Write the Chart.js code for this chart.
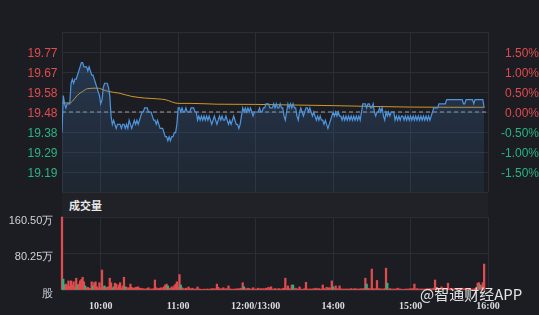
<!DOCTYPE html>
<html><head><meta charset="utf-8">
<script src="https://cdn.jsdelivr.net/npm/chart.js@4.4.0/dist/chart.umd.min.js"></script>
<style>
html,body{margin:0;padding:0;background:#1b1d22;}
#wrap{position:relative;width:539px;height:315px;overflow:hidden;background:#1b1d22;}
#band{position:absolute;left:62px;top:193px;width:426px;height:24px;background:#202228;}
#vt{position:absolute;left:69px;top:197px;font-weight:bold;font-size:11px;font-family:"Noto Sans CJK SC";color:#e8e8e8;line-height:17px;}
#c1{position:absolute;left:0;top:0;}
#c2{position:absolute;left:0;top:195px;}
#wm{position:absolute;left:420px;top:284px;font-size:15px;font-family:"Noto Sans CJK SC";color:rgba(255,255,255,0.88);line-height:20px;white-space:nowrap;z-index:5;}
</style></head>
<body><div id="wrap">
<div id="band"></div><div id="vt">成交量</div>
<canvas id="c1" width="539" height="195"></canvas>
<canvas id="c2" width="539" height="120"></canvas>
<div id="wm">@智通财经APP</div>
</div>
<script>
const prevClose = 19.48;
const totalMinutes = 330;
const gridMinutes = [0, 30, 90, 150, 210, 270, 330];
const timeTickLabels = ['', '10:00', '11:00', '12:00/13:00', '14:00', '15:00', '16:00'];
const pctSteps = [-2, -1.5, -1, -0.5, 0, 0.5, 1, 1.5, 2];
const priceTickLabels = ['', '19.19', '19.29', '19.38', '19.48', '19.58', '19.67', '19.77', ''];
const pctTickLabels = ['', '-1.50%', '-1.00%', '-0.50%', '0.00%', '0.50%', '1.00%', '1.50%', ''];
const volTickValues = [0, 80.25, 160.5];
const volTickLabels = ['股', '80.25万', '160.50万'];

const price = [
19.38,19.56,19.52,19.50,19.52,19.52,19.52,19.62,19.64,19.62,
19.64,19.64,19.66,19.68,19.70,19.72,19.72,19.70,19.70,19.70,
19.68,19.70,19.68,19.66,19.66,19.64,19.62,19.60,19.58,19.56,
19.52,19.54,19.60,19.62,19.62,19.62,19.60,19.56,19.46,19.42,
19.44,19.42,19.40,19.42,19.42,19.42,19.40,19.42,19.42,19.40,
19.42,19.40,19.44,19.42,19.40,19.42,19.44,19.42,19.44,19.42,
19.44,19.46,19.48,19.48,19.50,19.50,19.50,19.48,19.48,19.48,
19.46,19.44,19.44,19.42,19.44,19.42,19.40,19.40,19.40,19.38,
19.36,19.36,19.34,19.36,19.34,19.36,19.36,19.38,19.38,19.42,
19.50,19.50,19.48,19.50,19.48,19.48,19.50,19.48,19.48,19.48,
19.50,19.50,19.50,19.48,19.48,19.44,19.46,19.44,19.46,19.44,
19.46,19.44,19.46,19.44,19.46,19.44,19.42,19.44,19.46,19.44,
19.42,19.44,19.46,19.44,19.46,19.44,19.44,19.46,19.44,19.42,
19.44,19.42,19.44,19.46,19.44,19.42,19.42,19.40,19.42,19.46,
19.50,19.48,19.50,19.48,19.50,19.48,19.50,19.48,19.46,19.48,
19.48,19.48,19.48,19.50,19.48,19.48,19.50,19.50,19.52,19.52,
19.52,19.50,19.50,19.50,19.52,19.50,19.52,19.50,19.50,19.52,
19.50,19.50,19.46,19.44,19.48,19.52,19.50,19.52,19.50,19.52,
19.50,19.50,19.46,19.44,19.48,19.50,19.48,19.46,19.48,19.50,
19.50,19.48,19.50,19.48,19.46,19.48,19.46,19.44,19.46,19.44,
19.46,19.44,19.44,19.42,19.44,19.42,19.40,19.42,19.44,19.46,
19.48,19.46,19.48,19.46,19.48,19.46,19.46,19.44,19.46,19.44,
19.46,19.44,19.46,19.44,19.46,19.44,19.46,19.44,19.46,19.44,
19.46,19.44,19.48,19.52,19.52,19.52,19.50,19.52,19.52,19.50,
19.50,19.52,19.48,19.46,19.48,19.48,19.50,19.48,19.50,19.46,
19.44,19.48,19.46,19.48,19.46,19.48,19.48,19.48,19.44,19.46,
19.44,19.46,19.44,19.46,19.46,19.44,19.46,19.44,19.46,19.44,
19.46,19.44,19.46,19.44,19.46,19.44,19.46,19.44,19.46,19.44,
19.46,19.44,19.46,19.44,19.46,19.44,19.46,19.48,19.50,19.50,
19.50,19.50,19.52,19.52,19.52,19.52,19.52,19.52,19.54,19.54,
19.54,19.54,19.54,19.54,19.54,19.54,19.54,19.54,19.54,19.54,
19.54,19.52,19.52,19.54,19.54,19.54,19.54,19.54,19.54,19.52,
19.54,19.54,19.54,19.54,19.54,19.54,19.54,19.50
];

const avgMinutes = [0,6,8,12,16,20,28,32,36,44,54,64,74,80,90,100,120,150,180,210,240,270,300,327];
const avgPrice = [19.524,19.524,19.532,19.562,19.580,19.594,19.596,19.588,19.580,19.572,19.556,19.548,19.544,19.540,19.522,19.522,19.518,19.517,19.514,19.511,19.507,19.504,19.503,19.503];

const volume = [
160.5,24,11,13,9,20,8,20,11,18,
6,26,11,13,20,23,28,18,9,4,
6,4,3,18,9,16,18,7,4,16,
5,44,7,9,4,6,7,26,16,4,
7,15,13,5,11,16,4,9,28,7,
6,3,5,13,6,3,4,6,6,7,
3,4,2,3,2,2,3,5,2,2,
2,3,22,5,3,3,4,5,3,7,
11,13,9,3,4,7,4,9.5,13,18,
6,34,11,5,3,2,4,2,6.6,3,
2,4,2,2,2,6.6,2,2,1.5,1.5,
2,1.5,2,2,1.5,2,3,2,3,2,
13,6,2,3,2,5,2,3,2,9,
2,2,1.5,2,2,2,3,2,3,4,
16,7,3,2,4,3,2,2,5,2,
2,2,4,2,3,2,3,2,4,3,
6,3,7,2,2,3,2,2,3,2,
2,3,4,26,3,9,3,2,11,11,
2,4,2,2,6.6,2,1.5,2,3,17,
2,2,2,2,2,3,2,4,2,3,
2,2,11,3,2,6,3,5,3,20,
7,3,9,2,3,9,2,2,2,2,
2,2,2,2,3,2,2,3,2,2,
2,2,3,2,3,26,13,4,2,3,
46,3,2,3,21,2,3,2,2,2,
3,48,15,2,3,2,2,2,2,2,
4,2,2,2,1.5,1.5,2,2,2,2,
3,2,3,13,2,3,2,2,2,2,
2,2,2,3,2,3,2,3,4,22,
3,2,3,2,7,2,4,2,3,15,
3,2,3,2,2,3,2,2,2,2,
4,2,3,2,2,2,3,2,2,2,
3,3,15,16,11,9,16,57
];
const greenBars = [1,2,12,18,24,33,40,49,82,92,141,179,210,236,252,324];

const RED = '#e04b4e', GREEN = '#2ab383', GRID = '#2a2d34';
const noPad = (s)=>{ s.paddingTop = 0; s.paddingBottom = 0; s.paddingLeft = 0; s.paddingRight = 0; };

new Chart(document.getElementById('c1'), {
  type: 'line',
  data: { datasets: [
    { data: price.map((v,i)=>({x:i,y:v})), borderColor:'#4f95de', borderWidth:1.2, pointRadius:0, tension:0,
      fill:'start',
      backgroundColor:(ctx)=>{ const a = ctx.chart.chartArea; if(!a) return 'rgba(70,130,200,0.15)';
        const g = ctx.chart.ctx.createLinearGradient(0,a.top,0,a.bottom);
        g.addColorStop(0,'rgba(70,130,200,0.30)'); g.addColorStop(1,'rgba(70,130,200,0.09)'); return g; } },
    { data: avgMinutes.map((m,i)=>({x:m,y:avgPrice[i]})), borderColor:'#cf982a', borderWidth:1, pointRadius:0, fill:false, cubicInterpolationMode:'monotone' },
    { data: [{x:0,y:prevClose},{x:totalMinutes,y:prevClose}], borderColor:'rgba(195,200,210,0.75)', borderDash:[4,3], borderWidth:1, pointRadius:0, fill:false }
  ]},
  options: {
    responsive:false, animation:false, devicePixelRatio:1,
    layout:{padding:{top:32,bottom:3,left:0,right:0}},
    plugins:{legend:{display:false}, tooltip:{enabled:false}},
    scales:{
      x:{type:'linear', min:0, max:totalMinutes, grid:{color:GRID, drawTicks:false}, border:{display:false},
         ticks:{display:false}, afterBuildTicks:(s)=>{ s.ticks = gridMinutes.map(v=>({value:v})); }, afterFit:(s)=>{ s.height = 0; noPad(s); }},
      y:{position:'left', min:prevClose*0.98, max:prevClose*1.02, grid:{color:GRID, drawTicks:false}, border:{display:false},
         afterBuildTicks:(s)=>{ s.ticks = pctSteps.map(p=>({value:prevClose*(1+p/100)})); },
         ticks:{padding:4.5, labelOffset:2, font:{family:'Liberation Sans', size:12},
                color:(c)=> c.index >= 4 ? RED : GREEN, callback:(v,i)=>priceTickLabels[i]},
         afterFit:(s)=>{ s.width = 62; noPad(s); }},
      yp:{position:'right', display:true, min:-2, max:2, grid:{display:false}, border:{display:false},
         afterBuildTicks:(s)=>{ s.ticks = pctSteps.map(p=>({value:p})); },
         ticks:{crossAlign:'far', padding:7, labelOffset:2, font:{family:'Liberation Sans', size:12},
                color:(c)=> c.index >= 4 ? RED : GREEN, callback:(v,i)=>pctTickLabels[i]},
         afterFit:(s)=>{ s.width = 51; noPad(s); }}
    }
  }
});

new Chart(document.getElementById('c2'), {
  type: 'bar',
  data: { datasets: [
    { data: volume.map((v,i)=>({x:i,y:v})), barThickness:1.6, clip:false,
      backgroundColor: volume.map((v,i)=> greenBars.includes(i) ? GREEN : RED) }
  ]},
  options: {
    responsive:false, animation:false, devicePixelRatio:1,
    layout:{padding:{top:22,right:51,left:0,bottom:0}},
    plugins:{legend:{display:false}, tooltip:{enabled:false}},
    scales:{
      x:{type:'linear', min:0, max:totalMinutes, offset:false, grid:{color:GRID, drawTicks:false, offset:false}, border:{display:false},
         afterBuildTicks:(s)=>{ s.ticks = gridMinutes.map(v=>({value:v})); },
         ticks:{autoSkip:false, maxRotation:0, padding:10, font:{family:'Liberation Serif', size:10, weight:'bold'}, color:'#d8dce2',
                callback:(v,i)=>timeTickLabels[i]},
         afterFit:(s)=>{ s.height = 25; s.paddingLeft = 0; s.paddingRight = 0; }},
      y:{position:'left', min:0, max:160.5, grid:{color:GRID, drawTicks:false}, border:{display:false},
         afterBuildTicks:(s)=>{ s.ticks = volTickValues.map(v=>({value:v})); },
         ticks:{padding:8.7, labelOffset:3.5, font:{family:'Liberation Sans', size:11}, color:'#d0d3d9',
                callback:(v,i)=>volTickLabels[i]},
         afterFit:(s)=>{ s.width = 62; noPad(s); }}
    }
  }
});
</script>
</body></html>
